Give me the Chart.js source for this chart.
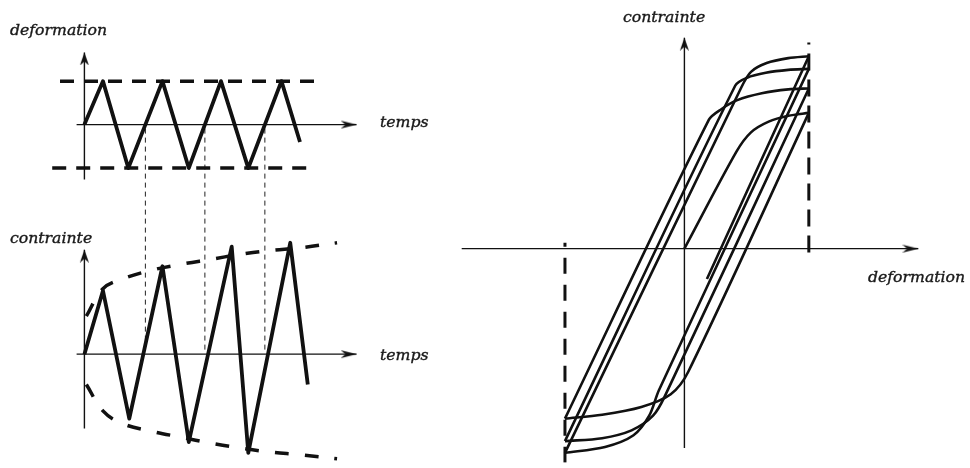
<!DOCTYPE html>
<html>
<head>
<meta charset="utf-8">
<script src="https://cdn.jsdelivr.net/npm/chart.js@4.4.1/dist/chart.umd.min.js"></script>
<style>
  html, body { margin: 0; padding: 0; background: #fff; }
  #fig { position: relative; width: 970px; height: 468px; overflow: hidden; }
  #left { position: absolute; left: 0; top: 0; }
  #right { position: absolute; left: 440px; top: 0; }
  .lbl {
    position: absolute; white-space: nowrap;
    font-family: "DejaVu Serif", serif; font-style: italic; font-size: 14px;
    line-height: 16px; color: #1a1a1a; -webkit-text-stroke: 0.35px #1a1a1a;
    transform-origin: left center; transform: scaleX(1.12);
  }
</style>
</head>
<body>
<div id="fig">
  <canvas id="left" width="440" height="468"></canvas>
  <canvas id="right" width="530" height="468"></canvas>
  <div class="lbl" style="left:10px; top:22px">deformation</div>
  <div class="lbl" style="left:380px; top:114px">temps</div>
  <div class="lbl" style="left:10px; top:230px">contrainte</div>
  <div class="lbl" style="left:380px; top:347px">temps</div>
  <div class="lbl" style="left:623px; top:9px">contrainte</div>
  <div class="lbl" style="left:868px; top:269px">deformation</div>
</div>
<script>
// deformation imposee (signal triangulaire)
const defTime = [0, 0.95, 2.25, 4.0, 5.35, 7.0, 8.4, 10.1, 11.05];
const defValue = [0, 1, -1, 1, -1, 1, -1, 1, -0.4];

// contrainte obtenue
const stressTime = [0, 0.95, 2.3, 4.0, 5.35, 7.55, 8.4, 10.55, 11.45];
const stressValue = [0, 0.65, -0.66, 0.9, -0.9, 1.1, -1.01, 1.14, -0.31];

// enveloppes du durcissement cyclique
const envTime = [0.1, 0.95, 1.95, 3.45, 4.95, 6.45, 7.95, 9.45, 11.1, 12.95];
const envUpper = [0.39, 0.67, 0.77, 0.86, 0.92, 0.97, 1.02, 1.06, 1.09, 1.14];
const envLower = [-0.31, -0.58, -0.71, -0.79, -0.85, -0.91, -0.96, -1.0, -1.03, -1.07];

// bornes +/- de la deformation
const defLimitTime = [[-1.25, 11.95], [-1.65, 11.55]];
const defLimit = [1, -1];

// boucles contrainte / deformation, branche par branche
const branchStrain = [
  [0, 0.417, 0.535, 0.677, 0.835, 1.0],
  [1.0, 0.031, -0.110, -0.346, -0.661, -0.96],
  [-0.96, 0.197, 0.299, 0.425, 0.622, 0.835, 1.0],
  [1.0, -0.157, -0.252, -0.425, -0.661, -0.96],
  [-0.96, 0.409, 0.504, 0.654, 0.835, 1.0],
  [1.0, -0.205, -0.283, -0.409, -0.638, -0.96],
  [-0.96, 0.457, 0.535, 0.661, 0.835, 1.0],
  [1.0, 0.181]
];
const branchStress = [
  [0, 0.495, 0.595, 0.65, 0.68, 0.695],
  [0.695, -0.63, -0.745, -0.81, -0.85, -0.87],
  [-0.87, 0.66, 0.715, 0.76, 0.795, 0.815, 0.82],
  [0.82, -0.755, -0.855, -0.93, -0.97, -0.985],
  [-0.985, 0.835, 0.875, 0.9, 0.915, 0.92],
  [0.92, -0.725, -0.855, -0.955, -1.015, -1.045],
  [-1.045, 0.825, 0.905, 0.95, 0.975, 0.985],
  [0.985, -0.155]
];
const strainMax = 1.0, strainMin = -0.96;

// etendue des axes
const timeAxis = [-0.4, 13.95];
const defAxis = [-1.26, 1.66];
const stressAxisLeft = [-0.76, 1.07];
const strainAxis = [-1.79, 1.88];
const stressAxisRight = [-1.02, 1.08];

const ink = '#111';

function arrowHead(len, half) {
  const c = document.createElement('canvas');
  c.width = len * 2;
  c.height = half * 2 + 2;
  const g = c.getContext('2d');
  const m = c.height / 2;
  g.fillStyle = ink;
  g.beginPath();
  g.moveTo(len, m);
  g.lineTo(0, m - half);
  g.lineTo(len * 0.3, m);
  g.lineTo(0, m + half);
  g.closePath();
  g.fill();
  return c;
}
const arrowH = arrowHead(16, 4);
const arrowV = arrowHead(13, 4.5);

const pts = (xs, ys) => xs.map((x, i) => ({ x, y: ys[i] }));

const line = (data, extra) => Object.assign({
  data, showLine: true, borderColor: ink, borderWidth: 3,
  borderJoinStyle: 'round', pointRadius: 0, tension: 0, fill: false
}, extra);

const axisLine = (data, rot, extra) => line(data, Object.assign({
  borderWidth: 1.4, pointRadius: [0, 4], pointStyle: rot === 0 ? arrowH : arrowV,
  pointRotation: rot
}, extra));

// lignes pointillees reliant les passages a zero des deux graphes
const linkPlugin = {
  id: 'links',
  beforeDatasetsDraw(chart) {
    const xs = chart.scales.x, yd = chart.scales.yDef, ys = chart.scales.yStress;
    const ctx = chart.ctx;
    ctx.save();
    ctx.strokeStyle = '#222';
    ctx.lineWidth = 1;
    ctx.setLineDash([5, 4]);
    for (let i = 1; i < defValue.length; i++) {
      const a = defValue[i - 1], b = defValue[i];
      if (a < 0 && b > 0) {
        const t = defTime[i - 1] + (defTime[i] - defTime[i - 1]) * (-a) / (b - a);
        const px = xs.getPixelForValue(t);
        ctx.beginPath();
        ctx.moveTo(px, yd.getPixelForValue(0) + 4);
        ctx.lineTo(px, ys.getPixelForValue(0) - 4);
        ctx.stroke();
      }
    }
    ctx.restore();
  }
};

const baseOpts = {
  responsive: false,
  animation: false,
  events: [],
  layout: { padding: 0 },
  plugins: { legend: { display: false }, tooltip: { enabled: false } }
};

new Chart(document.getElementById('left'), {
  type: 'scatter',
  data: {
    datasets: [
      axisLine(pts(timeAxis, [0, 0]), 0, { yAxisID: 'yDef' }),
      axisLine(pts([0, 0], defAxis), -90, { yAxisID: 'yDef' }),
      axisLine(pts(timeAxis, [0, 0]), 0, { yAxisID: 'yStress' }),
      axisLine(pts([0, 0], stressAxisLeft), -90, { yAxisID: 'yStress' }),
      line(pts(defLimitTime[0], [defLimit[0], defLimit[0]]), { yAxisID: 'yDef', borderWidth: 3.5, borderDash: [14, 10] }),
      line(pts(defLimitTime[1], [defLimit[1], defLimit[1]]), { yAxisID: 'yDef', borderWidth: 3.5, borderDash: [14, 10] }),
      line(pts(envTime, envUpper), { yAxisID: 'yStress', borderWidth: 3.5, borderDash: [14, 16], tension: 0.4 }),
      line(pts(envTime, envLower), { yAxisID: 'yStress', borderWidth: 3.5, borderDash: [14, 16], tension: 0.4 }),
      line(pts(defTime, defValue), { yAxisID: 'yDef', borderWidth: 3.8 }),
      line(pts(stressTime, stressValue), { yAxisID: 'yStress', borderWidth: 3.8 })
    ]
  },
  options: Object.assign({}, baseOpts, {
    scales: {
      x: { type: 'linear', min: -4.05, max: 17.95, display: false },
      yDef: { type: 'linear', min: -7.775, max: 2.742, display: false },
      yStress: { type: 'linear', min: -1.11, max: 3.57, display: false }
    }
  }),
  plugins: [linkPlugin]
});

const loopSets = branchStrain.map((xs, i) =>
  line(pts(xs, branchStress[i]), { borderWidth: 2.6, tension: 0.3 }));

new Chart(document.getElementById('right'), {
  type: 'scatter',
  data: {
    datasets: [
      axisLine(pts(strainAxis, [0, 0]), 0),
      axisLine(pts([0, 0], stressAxisRight), -90),
      line(pts([strainMax, strainMax], [-0.02, 1.055]), { borderWidth: 3, borderDash: [17, 9] }),
      line(pts([strainMin, strainMin], [0.03, -1.2]), { borderWidth: 3, borderDash: [16, 11], borderDashOffset: 12 })
    ].concat(loopSets)
  },
  options: Object.assign({}, baseOpts, {
    scales: {
      x: { type: 'linear', min: -1.921, max: 2.252, display: false },
      y: { type: 'linear', min: -1.095, max: 1.245, display: false }
    }
  })
});
</script>
</body>
</html>
